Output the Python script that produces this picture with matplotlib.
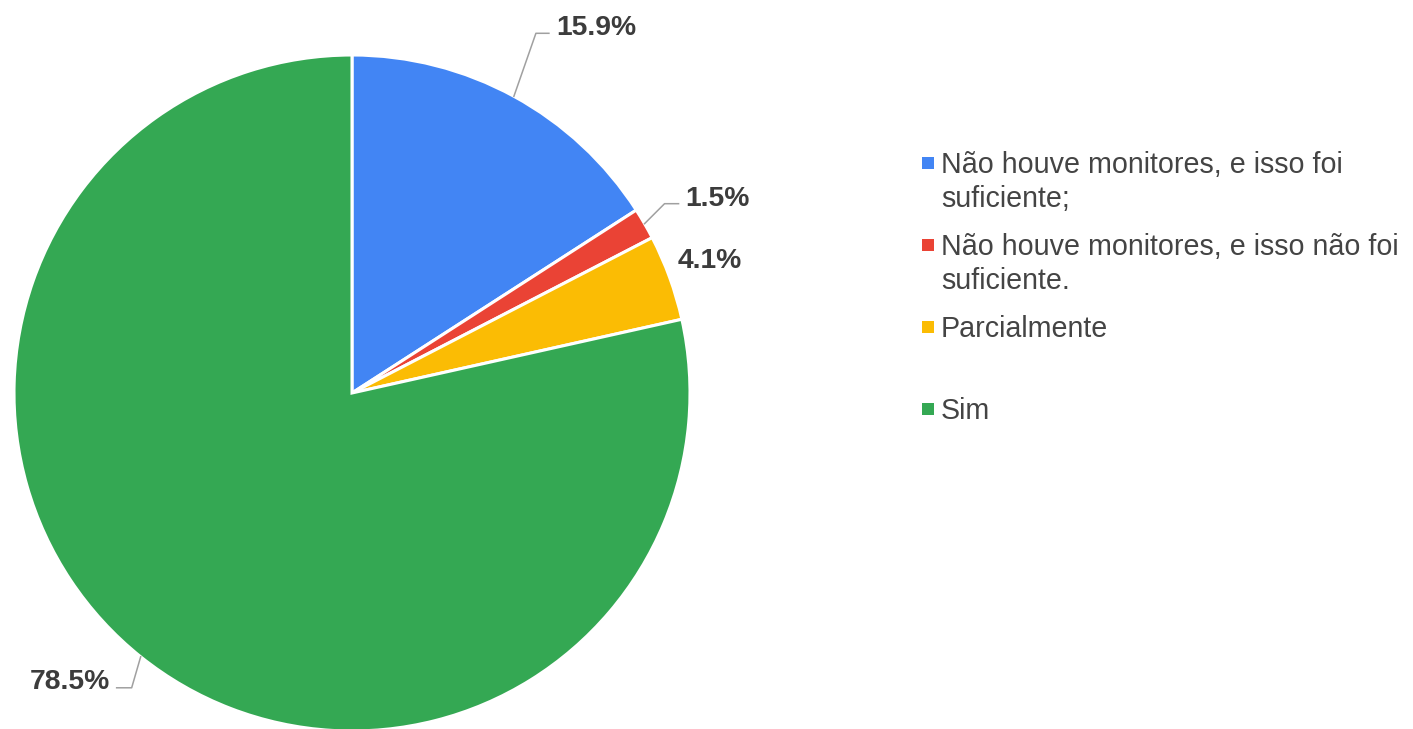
import numpy as np
import matplotlib
matplotlib.use("Agg")
import matplotlib.pyplot as plt

plt.rcParams['font.family'] = ['Liberation Sans', 'DejaVu Sans']

# ==========================================
# DATA
# ==========================================
labels = [
    "Não houve monitores, e isso foi\nsuficiente;",
    "Não houve monitores, e isso não foi\nsuficiente.",
    "Parcialmente",
    "Sim",
]
values = [15.9, 1.5, 4.1, 78.5]
colors = ["#4285F4", "#EA4335", "#FBBC04", "#34A853"]

# ==========================================
# FIGURE (axes in pixel units, y up)
# ==========================================
W, H = 1413, 729
fig = plt.figure(figsize=(W / 100, H / 100), dpi=100)
ax = fig.add_axes([0, 0, 1, 1])

cx, cy, r = 352, H - 393, 338

wedges, _ = ax.pie(values, colors=colors, startangle=90, counterclock=False,
                   center=(cx, cy), radius=r, frame=True,
                   wedgeprops=dict(edgecolor="white", linewidth=2.2))
ax.set_xlim(0, W)
ax.set_ylim(0, H)
ax.set_aspect("equal")
ax.axis("off")

# ==========================================
# PERCENT LABELS WITH LEADER LINES
# ==========================================
# (elbow dx, elbow dy, end dx) relative to wedge edge point; None = no line
leader = [
    (22, 63, 13),
    (20, 20, 14),
    None,
    (-9, -31, -15),
]
line_col = "#a0a0a0"
txt_col = "#3c3c3c"
fs_pct = 20.3

for w, v, ld in zip(wedges, values, leader):
    ang = np.deg2rad((w.theta1 + w.theta2) / 2)
    ex, ey = cx + r * np.cos(ang), cy + r * np.sin(ang)
    txt = f"{v:.1f}%"
    if ld is None:
        ax.text(ex + 8, ey + 10, txt, ha="left", va="baseline",
                fontsize=fs_pct, fontweight="bold", color=txt_col)
        continue
    dx, dy, ddx = ld
    bx, by = ex + dx, ey + dy
    fx = bx + ddx
    ax.plot([ex, bx, fx], [ey, by, by], color=line_col, lw=1.1)
    if ddx > 0:
        ax.text(fx + 7, by - 2, txt, ha="left", va="baseline",
                fontsize=fs_pct, fontweight="bold", color=txt_col)
    else:
        ax.text(fx - 7, by - 1, txt, ha="right", va="baseline",
                fontsize=fs_pct, fontweight="bold", color=txt_col)

# ==========================================
# LEGEND
# ==========================================
leg_x = 941
leg_y0 = 163
leg_step = 82
line_h = 34
for i, (lab, c) in enumerate(zip(labels, colors)):
    y = H - (leg_y0 + i * leg_step)
    ax.scatter([leg_x - 13], [y], marker="s", s=70, color=c, linewidths=0)
    for k, part in enumerate(lab.split("\n")):
        ax.text(leg_x, y - 10 - k * line_h, part, ha="left", va="baseline",
                fontsize=20.6, color="#444444")

fig.savefig("out.png", dpi=100)
